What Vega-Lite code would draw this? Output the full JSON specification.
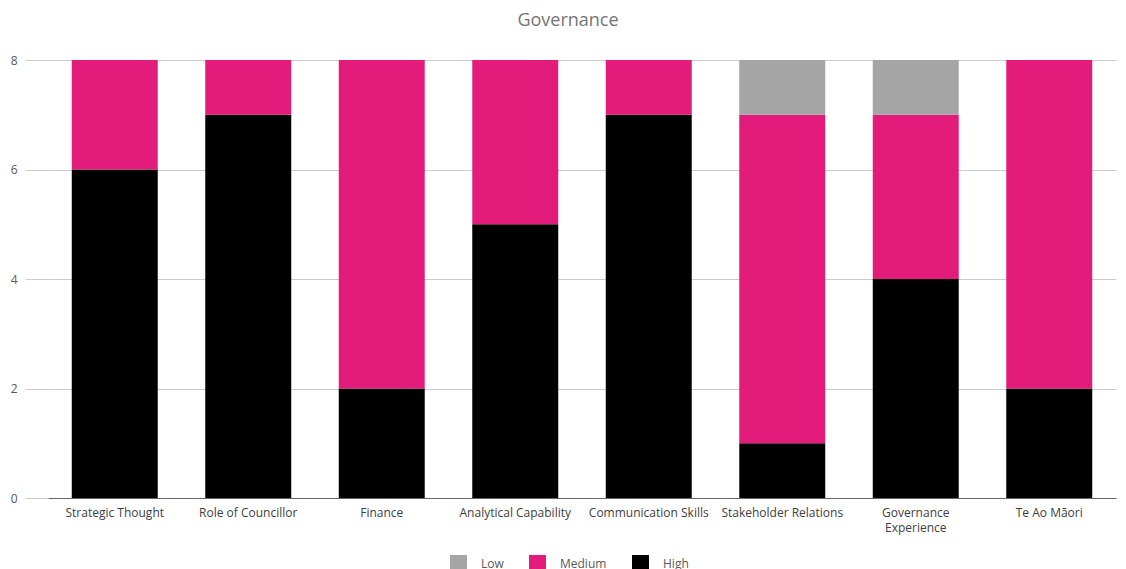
{
  "$schema": "https://vega.github.io/schema/vega-lite/v6.json",
  "autosize": "none",
  "width": 1068,
  "height": 438,
  "padding": {"left": 48, "top": 60, "right": 10, "bottom": 71},
  "background": "white",
  "title": {"text": "Governance", "anchor": "middle", "frame": "group", "fontSize": 18, "font": "Open Sans", "fontWeight": "normal", "color": "#757575", "offset": 24, "dx": -14},
  "config": {"view": {"stroke": null}, "font": "Open Sans"},
  "data": {"values": [
    {"skill": "Strategic Thought", "level": "High", "count": 6},
    {"skill": "Strategic Thought", "level": "Medium", "count": 2},
    {"skill": "Role of Councillor", "level": "High", "count": 7},
    {"skill": "Role of Councillor", "level": "Medium", "count": 1},
    {"skill": "Finance", "level": "High", "count": 2},
    {"skill": "Finance", "level": "Medium", "count": 6},
    {"skill": "Analytical Capability", "level": "High", "count": 5},
    {"skill": "Analytical Capability", "level": "Medium", "count": 3},
    {"skill": "Communication Skills", "level": "High", "count": 7},
    {"skill": "Communication Skills", "level": "Medium", "count": 1},
    {"skill": "Stakeholder Relations", "level": "High", "count": 1},
    {"skill": "Stakeholder Relations", "level": "Medium", "count": 6},
    {"skill": "Stakeholder Relations", "level": "Low", "count": 1},
    {"skill": "Governance Experience", "level": "High", "count": 4},
    {"skill": "Governance Experience", "level": "Medium", "count": 3},
    {"skill": "Governance Experience", "level": "Low", "count": 1},
    {"skill": "Te Ao Māori", "level": "High", "count": 2},
    {"skill": "Te Ao Māori", "level": "Medium", "count": 6}
  ]},
  "transform": [{"calculate": "indexof(['High','Medium','Low'], datum.level)", "as": "stackOrder"}],
  "mark": {"type": "bar"},
  "encoding": {
    "x": {
      "field": "skill", "type": "nominal", "sort": null,
      "scale": {"paddingInner": 0.356, "paddingOuter": 0.178},
      "axis": {
        "title": null, "labelAngle": 0, "labelFontSize": 12, "labelColor": "#404040",
        "labelPadding": 9, "ticks": false, "domainColor": "#666666", "domainWidth": 1,
        "labelExpr": "datum.label == 'Governance Experience' ? ['Governance', 'Experience'] : datum.label",
        "labelLineHeight": 15
      }
    },
    "y": {
      "field": "count", "type": "quantitative", "stack": "zero",
      "scale": {"domain": [0, 8]},
      "axis": {
        "title": null, "values": [0, 2, 4, 6, 8], "domain": false, "tickSize": 23,
        "tickColor": "#cccccc", "gridColor": "#cccccc", "labelPadding": 8,
        "labelFontSize": 12, "labelColor": "#595959"
      }
    },
    "color": {
      "field": "level", "type": "nominal",
      "scale": {"domain": ["Low", "Medium", "High"], "range": ["#A5A5A5", "#E31B7A", "#000000"]},
      "legend": {
        "title": null, "orient": "none", "direction": "horizontal", "legendX": 402, "legendY": 495,
        "symbolType": "square", "symbolSize": 289, "symbolStrokeWidth": 0, "symbolOpacity": 1,
        "labelFontSize": 12, "labelColor": "#595959", "labelOffset": 14, "columnPadding": 25
      }
    },
    "order": {"field": "stackOrder", "type": "quantitative"}
  }
}
